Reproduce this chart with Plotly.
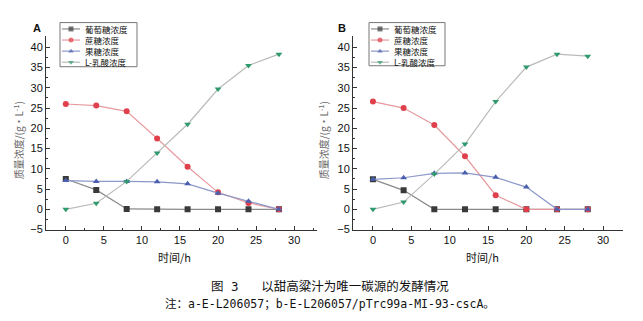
import plotly.graph_objects as go

W, H = 643, 321
hours = [0, 4, 8, 12, 16, 20, 24, 28]

# Panel A: a-E-L206057
a_glucose = [7.5, 4.8, 0.1, 0, 0, 0, 0, 0]
a_sucrose = [26.0, 25.6, 24.2, 17.5, 10.5, 4.2, 1.6, 0]
a_fructose = [7.1, 6.9, 6.9, 6.8, 6.3, 4.0, 2.0, 0]
a_lactate = [0, 1.5, 6.9, 13.9, 21.0, 29.7, 35.5, 38.3]

# Panel B: b-E-L206057/pTrc99a-MI-93-cscA
b_glucose = [7.4, 4.7, 0, 0, 0, 0, 0, 0]
b_sucrose = [26.6, 25.0, 20.8, 13.1, 3.5, 0, 0, 0]
b_fructose = [7.4, 7.8, 8.9, 9.0, 7.9, 5.5, 0, 0]
b_lactate = [0, 1.8, 8.7, 16.1, 26.6, 35.1, 38.3, 37.8]

names = ["葡萄糖浓度", "蔗糖浓度", "果糖浓度", "L-乳酸浓度"]
x_ticks = [0, 5, 10, 15, 20, 25, 30]
y_ticks = [-5, 0, 5, 10, 15, 20, 25, 30, 35, 40]

mcol = ["#3a3a3a", "#e0404c", "#4a5fae", "#2f9a6e"]
lcol = ["#8a8a8a", "#e79a9e", "#8c98c8", "#b8bcb8"]
symbols = ["square", "circle", "triangle-up", "triangle-down"]

fig = go.Figure()


def add_panel(series, xa, ya):
    for i, ys in enumerate(series):
        fig.add_trace(go.Scatter(
            x=hours, y=ys, name=names[i], mode="lines+markers",
            xaxis=xa, yaxis=ya, showlegend=False,
            line=dict(color=lcol[i], width=1.2),
            marker=dict(color=mcol[i], symbol=symbols[i], size=6,
                        line=dict(width=0)),
        ))


add_panel([a_glucose, a_sucrose, a_fructose, a_lactate], "x", "y")
add_panel([b_glucose, b_sucrose, b_fructose, b_lactate], "x2", "y2")


def px(x):
    return x / W


def py(y):
    return 1 - y / H


# custom compact legends (pixel overlay axis x3/y3 spanning the page)
shapes = []
ann = []
legend_boxes = [(60, 23, 137, 68), (369, 23, 445, 67)]
for (bx0, by0, bx1, by1) in legend_boxes:
    shapes.append(dict(type="rect", xref="paper", yref="paper",
                       x0=px(bx0), x1=px(bx1), y0=py(by1), y1=py(by0),
                       line=dict(color="#777", width=1), fillcolor="white", layer="below"))
    for i, nm in enumerate(names):
        ry = by0 + 6.5 + 11.3 * i
        fig.add_trace(go.Scatter(
            x=[bx0 + 2, bx0 + 11, bx0 + 20], y=[ry, ry, ry], mode="lines+markers",
            xaxis="x3", yaxis="y3", showlegend=False, hoverinfo="skip",
            line=dict(color=lcol[i], width=1.2),
            marker=dict(color=mcol[i], symbol=symbols[i], size=[0, 5, 0],
                        line=dict(width=0)),
        ))
        ann.append(dict(text=nm, x=px(bx0 + 24), y=py(ry), xanchor="left", yanchor="middle",
                        xref="paper", yref="paper", showarrow=False, borderpad=0,
                        font=dict(family="Noto Sans CJK SC", size=8.5, color="#111")))

tickfont = dict(family="Liberation Sans, Arial", size=11, color="#111")
xcommon = dict(tickvals=x_ticks, ticks="inside", ticklen=4,
               showline=True, linecolor="#333", linewidth=1, showgrid=False,
               zeroline=False, tickfont=tickfont, tickcolor="#333",
               minor=dict(ticks="inside", ticklen=2, dtick=2.5, tickcolor="#333"))
ycommon = dict(range=[-5, 42.7], tickvals=y_ticks,
               ticks="inside", ticklen=4, showline=True, linecolor="#333",
               linewidth=1, showgrid=False, zeroline=False, tickfont=tickfont,
               tickcolor="#333",
               minor=dict(ticks="inside", ticklen=2, dtick=2.5, tickcolor="#333"))

ydom = [py(234), py(37)]
fig.update_layout(
    width=W, height=H, margin=dict(l=0, r=0, t=0, b=0),
    plot_bgcolor="rgba(0,0,0,0)", paper_bgcolor="white", showlegend=False,
    xaxis=dict(domain=[px(46), px(317)], range=[-2.6, 33], anchor="y", **xcommon),
    yaxis=dict(domain=ydom, anchor="x", **ycommon),
    xaxis2=dict(domain=[px(353), px(623)], range=[-2.6, 32.6], anchor="y2", **xcommon),
    yaxis2=dict(domain=ydom, anchor="x2", **ycommon),
    xaxis3=dict(domain=[0, 1], range=[0, W], visible=False, fixedrange=True, anchor="y3"),
    yaxis3=dict(domain=[0, 1], range=[H, 0], visible=False, fixedrange=True, anchor="x3"),
    shapes=shapes,
)

lab = dict(xref="paper", yref="paper", showarrow=False, xanchor="center", yanchor="middle")
ann.append(dict(text="<b>A</b>", x=px(37), y=py(29),
                font=dict(family="Liberation Sans, Arial", size=11, color="#111"), **lab))
ann.append(dict(text="<b>B</b>", x=px(342), y=py(29),
                font=dict(family="Liberation Sans, Arial", size=11, color="#111"), **lab))
ytitle = "质量浓度/(g·L<sup>-1</sup>)"
for xx in (18, 323):
    ann.append(dict(text=ytitle, x=px(xx), y=py(143), textangle=-90,
                    font=dict(family="Noto Sans CJK SC", size=10, color="#666"), **lab))
for xx in (174, 482):
    ann.append(dict(text="时间/h", x=px(xx), y=py(262),
                    font=dict(family="Noto Sans CJK SC", size=11, color="#111"), **lab))
ann.append(dict(text="图 3   以甜高粱汁为唯一碳源的发酵情况", x=px(330), y=py(292),
                font=dict(family="DejaVu Sans Mono, Noto Sans CJK SC", size=12.5, color="#111"), **lab))
ann.append(dict(text="注：a-E-L206057；b-E-L206057/pTrc99a-MI-93-cscA。", x=px(330), y=py(310),
                font=dict(family="DejaVu Sans Mono, Noto Sans CJK SC", size=11.5, color="#111"), **lab))
fig.update_layout(annotations=ann)

fig.write_html("out.html")
